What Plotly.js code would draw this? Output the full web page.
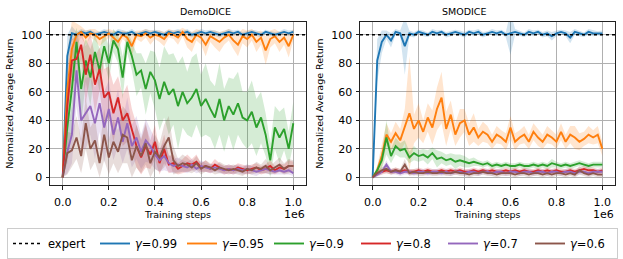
<!DOCTYPE html>
<html><head><meta charset="utf-8">
<script src="https://cdn.plot.ly/plotly-3.0.1.min.js"></script>
<style>html,body{margin:0;padding:0;background:#fff}#chart{width:623px;height:259px}</style>
</head><body><div id="chart"></div>
<script>
// Training steps (in units of 1e6)
const STEPS = [0.00,0.02,0.04,0.06,0.08,0.10,0.12,0.14,0.16,0.18,
  0.20,0.22,0.24,0.26,0.28,0.30,0.32,0.34,0.36,0.38,
  0.40,0.42,0.44,0.46,0.48,0.50,0.52,0.54,0.56,0.58,
  0.60,0.62,0.64,0.66,0.68,0.70,0.72,0.74,0.76,0.78,
  0.80,0.82,0.84,0.86,0.88,0.90,0.92,0.94,0.96,0.98,1.00];
const EXPERT = 100;
const PANEL_TITLES = ['DemoDICE', 'SMODICE'];
const SERIES_NAMES = ['<i>γ</i>=0.99','<i>γ</i>=0.95','<i>γ</i>=0.9','<i>γ</i>=0.8','<i>γ</i>=0.7','<i>γ</i>=0.6'];
const X_TICKS = [0, 0.2, 0.4, 0.6, 0.8, 1.0];
const X_TICK_TEXT = ['0.0','0.2','0.4','0.6','0.8','1.0'];
const Y_TICKS = [0, 20, 40, 60, 80, 100];

// DemoDICE means
const demo_g099 = [0,85,101,100,102,101,102,100,101,102, 101,100,102,101,101,102,100,101,102,101, 102,101,100,102,101,102,101,102,100,101, 102,101,102,101,100,101,102,101,102,100, 101,102,101,100,102,101,100,101,102,101,102];
const demo_g095 = [0,62,90,100,102,98,101,100,97,99, 101,98,95,100,98,92,100,99,101,98, 100,99,97,101,100,98,102,97,95,100, 98,93,99,97,95,98,100,96,93,99, 97,100,95,98,89,97,99,95,98,92,100];
const demo_g09  = [0,35,62,95,62,82,70,88,75,92, 80,96,90,70,95,85,72,75,62,74, 68,55,67,58,62,50,60,52,56,62, 50,55,48,42,55,40,50,44,52,42, 40,46,35,42,30,12,35,28,34,20,38];
const demo_g08  = [0,50,82,83,93,72,86,65,76,56, 60,45,56,40,45,33,22,14,22,16, 25,10,20,9,10,6,8,10,9,11, 7,8,6,9,7,5,6,5,7,6, 5,6,7,5,6,8,5,7,6,8,8];
const demo_g07  = [0,18,30,75,40,45,50,38,52,35, 48,30,42,25,38,22,28,18,26,22, 16,12,15,10,8,9,8,7,9,6, 8,7,6,7,6,5,6,5,6,5, 6,5,4,5,6,5,4,5,4,5,3];
const demo_g06  = [0,17,19,28,15,38,20,26,10,30, 14,25,18,30,28,12,22,15,24,10, 18,14,22,28,12,8,10,9,7,10, 6,8,7,5,7,6,5,6,5,4, 6,5,7,6,8,5,7,9,6,8,8];
// DemoDICE std
const demo_g099_sd = [0,15,5,2,2,2,1.5,2,1.5,2, 2,1.5,2,2,1.5,2,2,1.5,2,2, 1.5,2,2,1.5,2,2,1.5,2,2,1.5, 2,2,1.5,2,2,1.5,2,2,1.5,2, 2,1.5,2,2,1.5,2,2,1.5,2,2,1.5];
const demo_g095_sd = [0,25,20,8,4,5,3,4,5,4, 3,5,6,3,4,8,3,4,3,5, 3,4,5,3,3,5,3,6,7,4, 5,8,4,6,7,5,4,6,8,5, 6,4,7,5,10,6,5,7,5,8,4];
const demo_g09_sd  = [0,25,30,10,25,15,20,12,15,10, 12,8,10,15,8,10,15,12,18,15, 20,22,25,28,25,30,25,22,28,25, 22,25,20,22,25,22,20,25,22,18, 20,22,20,18,15,12,15,18,15,12,15];
const demo_g08_sd  = [0,25,15,15,10,20,15,20,15,20, 18,20,15,18,20,15,15,12,15,10, 12,8,10,6,6,4,5,6,4,5, 3,4,3,4,3,3,3,3,3,3, 3,3,3,3,3,4,3,3,3,4,3];
const demo_g07_sd  = [0,15,20,25,20,25,20,25,20,25, 20,18,20,15,18,15,15,12,15,12, 10,8,10,6,5,5,4,4,4,3, 4,3,3,3,3,3,3,3,3,3, 3,3,3,2,3,3,2,3,2,3,2];
const demo_g06_sd  = [0,15,12,15,12,18,15,15,10,18, 12,15,15,20,18,12,15,12,15,10, 12,10,15,15,10,5,6,5,4,5, 4,4,3,3,4,3,3,3,3,3, 3,3,4,3,5,3,4,5,4,5,4];

// SMODICE means
const smo_g099 = [0,82,95,100,96,102,101,92,101,100, 102,101,100,102,101,102,100,101,102,101, 100,102,101,102,100,101,102,101,102,100, 101,102,101,100,102,101,102,100,101,99, 101,102,101,98,102,101,100,102,101,101,101];
const smo_g095 = [0,5,15,30,25,31,26,36,45,34, 40,32,42,35,48,56,34,44,30,38, 40,30,35,28,32,30,25,30,28,25, 35,25,28,30,25,32,28,25,30,28, 25,32,25,30,28,25,27,30,28,30,20];
const smo_g09  = [0,5,12,28,15,22,19,20,14,17, 15,16,14,17,13,14,12,13,11,12, 11,10,11,10,9,10,8,9,8,9, 8,8,9,8,8,9,8,9,8,10, 9,8,9,8,9,10,9,8,9,9,9];
const smo_g08  = [0,3,4,5,4,5,4,5,4,4, 5,4,5,4,4,5,4,5,4,5, 4,4,5,4,5,4,5,4,4,5, 4,5,4,5,4,4,5,4,5,4, 5,4,4,5,4,5,6,5,5,4,5];
const smo_g07  = [0,2,4,9,4,4,3,4,4,3, 4,4,3,4,4,3,4,3,4,4, 3,4,4,3,4,4,3,4,4,3, 4,4,3,4,4,3,4,4,3,4, 4,3,4,4,3,4,4,3,4,4,4];
const smo_g06  = [0,3,5,6,4,5,4,9,3,4, 3,3,4,3,3,4,3,3,4,3, 3,2,3,3,4,3,3,2,3,3, 3,2,3,3,2,3,3,2,3,2, 3,3,2,3,2,5,3,2,3,2,2];
// SMODICE std
const smo_g099_sd = [0,15,8,3,5,2,2,20,2,2, 1.5,2,1.5,2,2,1.5,2,2,1.5,2, 2,1.5,2,2,2,1.5,2,2,1.5,2, 15,2,2,1.5,2,2,1.5,2,2,3, 2,1.5,2,4,2,2,1.5,2,2,1.5,2];
const smo_g095_sd = [0,3,8,8,6,8,8,12,40,10, 12,8,10,12,15,18,12,10,8,10, 8,8,10,6,7,6,5,6,5,6, 8,6,5,6,5,6,6,5,6,5, 5,6,5,6,8,6,5,6,5,6,5];
const smo_g09_sd  = [0,3,6,12,5,6,5,6,4,5, 4,4,5,4,6,4,4,4,5,4, 4,3,3,2,2,2,2,2,2,2, 2,2,2,2,2,2,2,2,2,3, 2,2,2,2,2,2,2,2,2,2,2];
const smo_g08_sd  = [0,2,2,2,2,2,2,2,2,2, 2,2,2,2,2,2,2,2,2,2, 2,2,2,2,2,2,2,2,2,2, 2,2,2,2,2,2,2,2,2,2, 2,2,2,2,2,2,2,2,2,2,2];
const smo_g07_sd  = [0,1.5,2,3,2,2,2,2,2,2, 2,2,2,2,2,2,2,2,2,2, 2,2,2,2,2,2,2,2,2,2, 2,2,2,2,2,2,2,2,2,2, 2,2,2,2,2,2,2,2,2,2,2];
const smo_g06_sd  = [0,2,2,3,2,2,2,4,2,2, 2,2,2,2,2,2,2,2,2,2, 2,2,2,2,2,2,2,2,2,2, 2,2,2,2,2,2,2,2,2,2, 2,2,2,2,2,3,2,2,2,2,2];

const PANELS = [
  {means:[demo_g099,demo_g095,demo_g09,demo_g08,demo_g07,demo_g06],
   sds:[demo_g099_sd,demo_g095_sd,demo_g09_sd,demo_g08_sd,demo_g07_sd,demo_g06_sd]},
  {means:[smo_g099,smo_g095,smo_g09,smo_g08,smo_g07,smo_g06],
   sds:[smo_g099_sd,smo_g095_sd,smo_g09_sd,smo_g08_sd,smo_g07_sd,smo_g06_sd]}
];

const COLORS = ['#1f77b4','#ff7f0e','#2ca02c','#d62728','#9467bd','#8c564b'];
const RGB = ['31,119,180','255,127,14','44,160,44','214,39,40','148,103,189','140,86,75'];
const XR = [-0.055, 1.055];
const YR = [-5.5, 109];
const FONT = 'DejaVu Sans, sans-serif';

const traces = [];
PANELS.forEach((p, pi) => {
  const xa = pi === 0 ? 'x' : 'x2', ya = pi === 0 ? 'y' : 'y2';
  p.means.forEach((m, si) => {
    const sd = p.sds[si];
    const up = m.map((v, i) => v + sd[i]);
    const lo = m.map((v, i) => v - sd[i]);
    traces.push({x: STEPS.concat(STEPS.slice().reverse()), y: up.concat(lo.slice().reverse()),
      xaxis: xa, yaxis: ya, type: 'scatter', mode: 'lines', fill: 'toself',
      fillcolor: 'rgba(' + RGB[si] + ',0.2)', line: {width: 0}, hoverinfo: 'skip', showlegend: false});
  });
});
PANELS.forEach((p, pi) => {
  const xa = pi === 0 ? 'x' : 'x2', ya = pi === 0 ? 'y' : 'y2';
  p.means.forEach((m, si) => {
    traces.push({x: STEPS, y: m, xaxis: xa, yaxis: ya, type: 'scatter', mode: 'lines',
      name: SERIES_NAMES[si], line: {color: COLORS[si], width: 1.9},
      showlegend: pi === 0, legendrank: 2 + si});
  });
  traces.push({x: XR, y: [EXPERT, EXPERT], xaxis: xa, yaxis: ya, type: 'scatter', mode: 'lines',
    name: 'expert', line: {color: '#000', width: 1.6, dash: 'dot'}, showlegend: pi === 0, legendrank: 1});
});

const W = 623, H = 259;
const yDom = [(H - 186) / H, (H - 22) / H];
function xax(dom) {
  return {domain: dom, range: XR, tickvals: X_TICKS, ticktext: X_TICK_TEXT, automargin: false,
    showgrid: true, gridcolor: '#b0b0b0', gridwidth: 1, zeroline: false,
    showline: true, mirror: true, linecolor: '#222', linewidth: 1,
    ticks: 'outside', ticklen: 3.5, tickcolor: '#222', tickwidth: 1, ticklabelstandoff: 3,
    tickfont: {family: FONT, size: 11, color: '#000'},
    title: {text: 'Training steps', font: {family: FONT, size: 9.5, color: '#000'}, standoff: 3}};
}
function yax(anchor) {
  return {domain: yDom, range: YR, tickvals: Y_TICKS, anchor: anchor, automargin: false,
    showgrid: true, gridcolor: '#b0b0b0', gridwidth: 1, zeroline: false,
    showline: true, mirror: true, linecolor: '#222', linewidth: 1,
    ticks: 'outside', ticklen: 3.5, tickcolor: '#222', tickwidth: 1, ticklabelstandoff: 1,
    tickfont: {family: FONT, size: 11, color: '#000'},
    title: {text: 'Normalized Average Return', font: {family: FONT, size: 9.5, color: '#000'}, standoff: 5}};
}
const d1 = [50 / W, 306 / W], d2 = [360 / W, 615 / W];
const layout = {
  width: W, height: H, margin: {l: 0, r: 0, t: 0, b: 0},
  paper_bgcolor: '#fff', plot_bgcolor: '#fff',
  font: {family: FONT, color: '#000'},
  xaxis: Object.assign(xax(d1), {anchor: 'y'}),
  yaxis: yax('x'),
  xaxis2: Object.assign(xax(d2), {anchor: 'y2'}),
  yaxis2: yax('x2'),
  showlegend: true,
  legend: {orientation: 'h', x: 7 / W, xanchor: 'left', y: (H - 229) / H, yanchor: 'top',
    bordercolor: '#cccccc', borderwidth: 1, bgcolor: '#fff',
    font: {family: FONT, size: 11.5, color: '#000'},
    itemwidth: 30, entrywidth: 42, entrywidthmode: 'pixels', tracegroupgap: 0},
  annotations: [
    {text: PANEL_TITLES[0], xref: 'paper', yref: 'paper', x: (d1[0] + d1[1]) / 2, y: (H - 12) / H,
     yanchor: 'middle', showarrow: false, font: {family: FONT, size: 9.5, color: '#000'}},
    {text: PANEL_TITLES[1], xref: 'paper', yref: 'paper', x: (d2[0] + d2[1]) / 2, y: (H - 12) / H,
     yanchor: 'middle', showarrow: false, font: {family: FONT, size: 9.5, color: '#000'}},
    {text: '1e6', xref: 'paper', yref: 'paper', x: (d1[1] * W + 1) / W, xanchor: 'right', y: (H - 215) / H,
     yanchor: 'middle', showarrow: false, font: {family: FONT, size: 11, color: '#000'}},
    {text: '1e6', xref: 'paper', yref: 'paper', x: (d2[1] * W + 1) / W, xanchor: 'right', y: (H - 215) / H,
     yanchor: 'middle', showarrow: false, font: {family: FONT, size: 11, color: '#000'}}
  ]
};
Plotly.newPlot('chart', traces, layout, {staticPlot: true, displayModeBar: false});
</script></body></html>
